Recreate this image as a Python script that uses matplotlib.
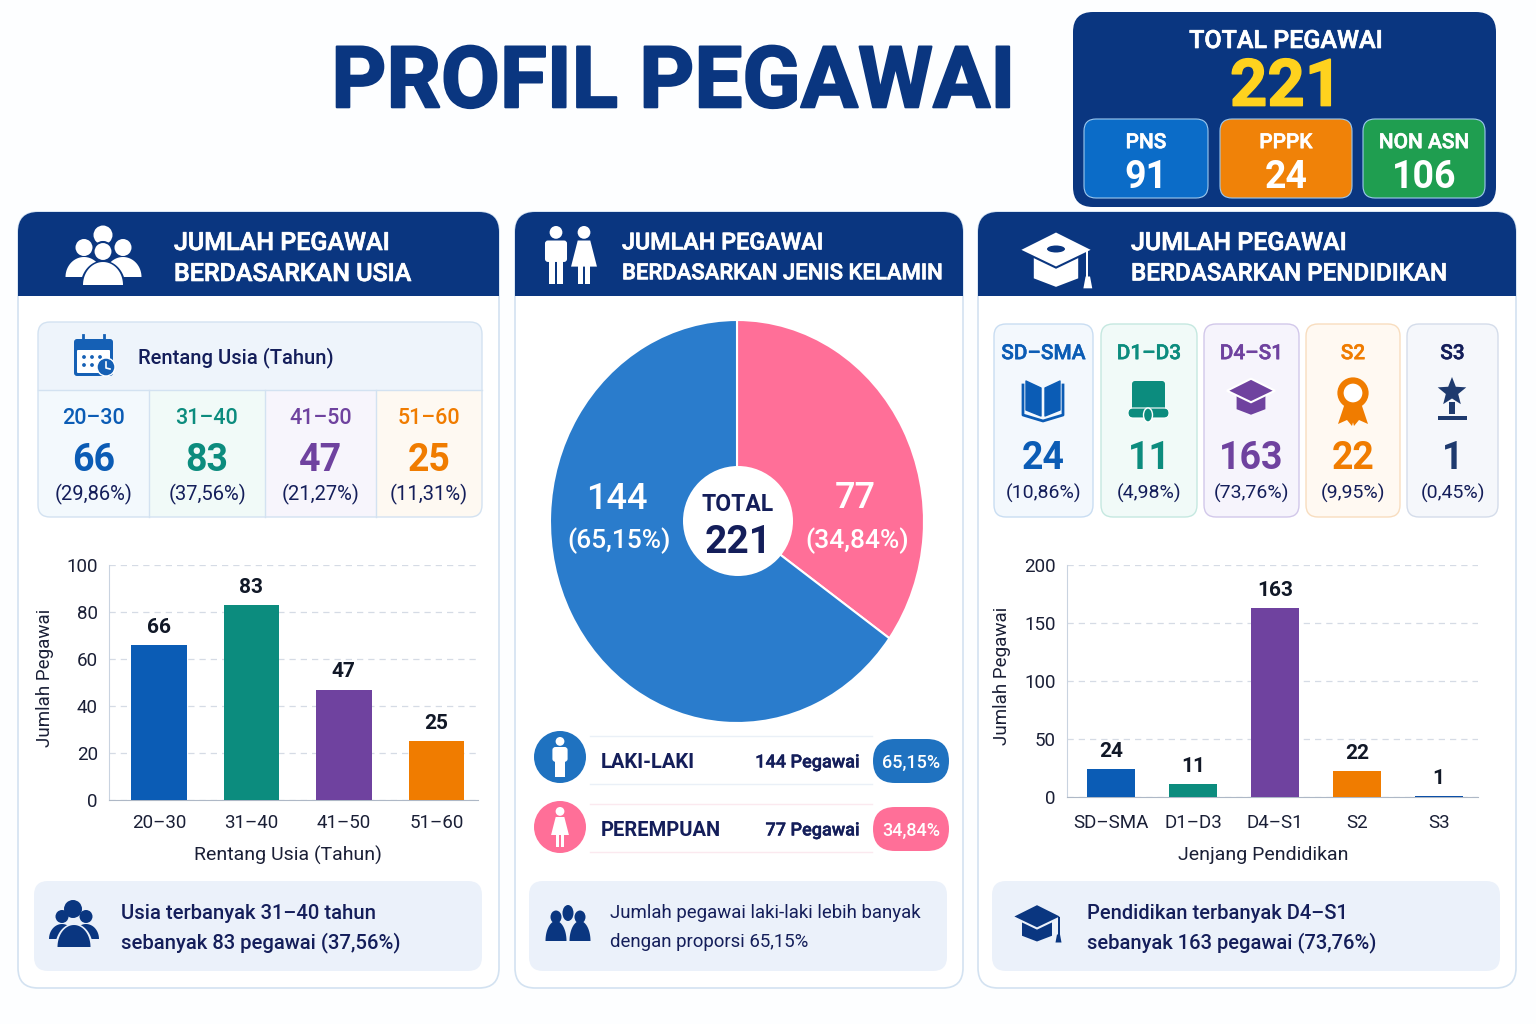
#!/usr/bin/env python3

import numpy as np
import matplotlib

matplotlib.use("Agg")
import matplotlib.pyplot as plt
from matplotlib.patches import Circle, Ellipse, FancyBboxPatch, Polygon, Rectangle
import matplotlib.patheffects as pe

plt.rcParams["font.family"] = ["Roboto", "DejaVu Sans"]

# Data
total_pegawai = 221
status_labels = ["PNS", "PPPK", "NON ASN"]
status_values = [91, 24, 106]

age_groups = ["20–30", "31–40", "41–50", "51–60"]
age_values = [66, 83, 47, 25]
age_pct = ["29,86%", "37,56%", "21,27%", "11,31%"]

gender_labels = ["PEREMPUAN", "LAKI-LAKI"]
gender_values = [77, 144]
gender_pct = ["34,84%", "65,15%"]

edu_groups = ["SD–SMA", "D1–D3", "D4–S1", "S2", "S3"]
edu_values = [24, 11, 163, 22, 1]
edu_pct = ["10,86%", "4,98%", "73,76%", "9,95%", "0,45%"]

# Colours
NAVY = "#0A3680"
INK = "#141E5A"
BLUE = "#0B5CB5"
TEAL = "#0C8C7E"
PURPLE = "#6F429F"
ORANGE = "#F07C00"
SLATE = "#1E3A6E"
PIE_BLUE = "#2A7CCC"
PIE_PINK = "#FF6F98"
BORDER = "#D3E2F1"
INSIGHT = "#EBF1FA"

fig = plt.figure(figsize=(15.36, 10.24), dpi=100, facecolor="#FDFEFF")


def pixel_axes(z):
    ax = fig.add_axes([0, 0, 1, 1], zorder=z)
    ax.set_xlim(0, 1536)
    ax.set_ylim(1024, 0)
    ax.axis("off")
    return ax


bg = pixel_axes(0)
fg = pixel_axes(5)


def rbox(x0, y0, x1, y1, r, fc, ec="none", lw=1.0, ax=bg, z=2):
    ax.add_patch(
        FancyBboxPatch(
            (x0 + r, y0 + r),
            x1 - x0 - 2 * r,
            y1 - y0 - 2 * r,
            boxstyle=f"round,pad={r},rounding_size={r}",
            fc=fc,
            ec=ec,
            lw=lw,
            zorder=z,
        )
    )


def txt(x, y, s, size, color=INK, weight="normal", ha="center", ax=bg, stroke=0):
    # va center sits a little high for these fonts, so push it down with the size
    t = ax.text(x, y + size * 0.11, s, fontsize=size, color=color, fontweight=weight, ha=ha, va="center", zorder=10)
    if stroke:
        t.set_path_effects([pe.withStroke(linewidth=stroke, foreground=color)])
    return t


def dome(cx, base, w, h, color, z=6):
    t = np.linspace(0, np.pi, 40)
    pts = np.c_[cx + w / 2 * np.cos(t), base - h * np.sin(t)]
    bg.add_patch(Polygon(pts, fc=color, ec="none", zorder=z))


def bust(cx, base, w, h, r, color, edge=None, z=6):
    # head and shoulders, optional outline so overlapping figures stay apart
    if edge:
        dome(cx, base + 1.5, w + 5, h + 3, edge, z)
    dome(cx, base, w, h, color, z)
    bg.add_patch(Circle((cx, base - h - r - 1), r, fc=color, ec=edge if edge else "none", lw=1.5, zorder=z))


def man(cx, top, h, color, z=6):
    w = h * 0.38
    bg.add_patch(Circle((cx, top + h * 0.11), h * 0.11, fc=color, ec="none", zorder=z))
    rbox(cx - w / 2, top + h * 0.25, cx + w / 2, top + h * 0.62, 3, color, z=z)
    bg.add_patch(Rectangle((cx - w * 0.32, top + h * 0.55), w * 0.29, h * 0.45, fc=color, ec="none", zorder=z))
    bg.add_patch(Rectangle((cx + w * 0.03, top + h * 0.55), w * 0.29, h * 0.45, fc=color, ec="none", zorder=z))


def woman(cx, top, h, color, z=6):
    w = h * 0.36
    bg.add_patch(Circle((cx, top + h * 0.11), h * 0.11, fc=color, ec="none", zorder=z))
    bg.add_patch(
        Polygon(
            [
                (cx - w * 0.3, top + h * 0.25),
                (cx + w * 0.3, top + h * 0.25),
                (cx + w * 0.62, top + h * 0.7),
                (cx - w * 0.62, top + h * 0.7),
            ],
            fc=color,
            ec="none",
            zorder=z,
        )
    )
    bg.add_patch(Rectangle((cx - w * 0.3, top + h * 0.65), w * 0.24, h * 0.35, fc=color, ec="none", zorder=z))
    bg.add_patch(Rectangle((cx + w * 0.06, top + h * 0.65), w * 0.24, h * 0.35, fc=color, ec="none", zorder=z))


def mortarboard(cx, cy, s, color, cut="white", tassel=False):
    # s = half width of the board
    bg.add_patch(
        Polygon(
            [(cx - s * 0.6, cy - s * 0.02), (cx + s * 0.6, cy - s * 0.02), (cx + s * 0.6, cy + s * 0.55),
             (cx, cy + s * 0.78), (cx - s * 0.6, cy + s * 0.55)],
            fc=color, ec="none", zorder=6,
        )
    )
    bg.add_patch(
        Polygon(
            [(cx - s, cy - s * 0.22), (cx, cy - s * 0.72), (cx + s, cy - s * 0.22), (cx, cy + s * 0.26)],
            fc=color, ec=cut, lw=1.5, zorder=7,
        )
    )
    if tassel:
        bg.add_patch(Rectangle((cx + s * 0.82, cy - s * 0.2), 2, s * 0.72, fc=color, ec="none", zorder=7))
        bg.add_patch(Polygon([(cx + s * 0.8, cy + s * 0.5), (cx + s * 0.92, cy + s * 0.5),
                              (cx + s * 0.98, cy + s * 0.82), (cx + s * 0.74, cy + s * 0.82)],
                             fc=color, ec="none", zorder=7))


# Title
txt(673, 77, "PROFIL PEGAWAI", 61.5, NAVY, "bold", stroke=1.5)

# Total box
rbox(1073, 12, 1496, 207, 20, NAVY)
txt(1286, 39, "TOTAL PEGAWAI", 18, "white", "medium", stroke=0.5)
txt(1286, 83, str(total_pegawai), 47, "#FFD21E", "bold", stroke=1)
status_boxes = [(1084, 1208, "#0B6CC8"), (1220, 1352, "#F08208"), (1363, 1485, "#1F9E50")]
for (x0, x1, col), lab, val in zip(status_boxes, status_labels, status_values):
    rbox(x0, 119, x1, 198, 12, col, ec="#9CC8EE", lw=0.8, z=3)
    txt((x0 + x1) / 2, 141, lab, 15, "white", "medium", stroke=0.4)
    txt((x0 + x1) / 2, 175, str(val), 27, "white", "bold")

# Cards with their headers, line sizes differ because the text is squeezed to fit
cards = [
    (18, 499, 174, ["JUMLAH PEGAWAI", "BERDASARKAN USIA"], [18, 18]),
    (515, 963, 622, ["JUMLAH PEGAWAI", "BERDASARKAN JENIS KELAMIN"], [16.8, 15.9]),
    (978, 1516, 1131, ["JUMLAH PEGAWAI", "BERDASARKAN PENDIDIKAN"], [18, 17.4]),
]
for x0, x1, tx, lines, sizes in cards:
    rbox(x0, 212, x1, 988, 20, "white", ec=BORDER, lw=1.2, z=1)
    rbox(x0, 212, x1, 280, 20, NAVY, z=2)
    bg.add_patch(Rectangle((x0, 250), x1 - x0, 46, fc=NAVY, ec="none", zorder=2))
    txt(tx, 241, lines[0], sizes[0], "white", "medium", ha="left", stroke=0.5)
    txt(tx, 272, lines[1], sizes[1], "white", "medium", ha="left", stroke=0.5)

# Header icons
bg.add_patch(Circle((103, 235), 9.5, fc="white", ec="none", zorder=6))
bust(84, 277, 37, 20, 8.5, "white")
bust(123, 277, 37, 20, 8.5, "white")
bust(103, 285, 40, 23, 9.5, "white", edge=NAVY, z=7)
man(556, 226, 58, "white")
woman(584, 226, 58, "white")
mortarboard(1056, 258, 37, "white", cut=NAVY, tassel=True)
bg.add_patch(Ellipse((1056, 249), 18, 7, fc=NAVY, ec="none", zorder=8))

# Age panel
rbox(38, 322, 482, 517, 12, "#F6FAFE")
rbox(38, 322, 482, 380, 12, "#EEF4FB", z=3)
bg.add_patch(Rectangle((38, 365), 444, 25, fc="#EEF4FB", ec="none", zorder=3))
txt(138, 356, "Rentang Usia (Tahun)", 14.5, INK, "medium", ha="left")

# calendar icon
rbox(74, 339, 113, 376, 3, "#1560B5", z=5)
rbox(77, 350, 110, 373, 1, "white", z=6)
for px in [83, 104]:
    bg.plot([px, px], [335, 342], color="#1560B5", lw=2, zorder=6)
for px, py in [(84, 357), (92, 357), (100, 357), (84, 365), (92, 365)]:
    bg.add_patch(Circle((px, py), 1.9, fc="#1560B5", ec="none", zorder=7))
bg.add_patch(Circle((106, 367), 9, fc="#1560B5", ec="white", lw=1, zorder=8))
bg.plot([106, 106, 110], [362, 368, 369], color="white", lw=1.2, zorder=9)

age_cells = [(38, 149, "#F3F9FD"), (149, 265, "#F1FAF8"), (265, 376, "#F7F5FC"), (376, 482, "#FEF9F2")]
age_cols = [BLUE, TEAL, PURPLE, ORANGE]
for i, (x0, x1, tint) in enumerate(age_cells):
    # only the outer bottom corners of the row stay rounded
    rbox(x0, 391, x1, 517, 12, tint, z=3)
    bg.add_patch(Rectangle((x0, 391), x1 - x0, 20, fc=tint, ec="none", zorder=3))
    if i > 0:
        bg.add_patch(Rectangle((x0, 391), 20, 126, fc=tint, ec="none", zorder=3))
    if i < len(age_cells) - 1:
        bg.add_patch(Rectangle((x1 - 20, 391), 20, 126, fc=tint, ec="none", zorder=3))
        bg.plot([x1, x1], [390, 517], color=BORDER, lw=1, zorder=4)
    cx = (x0 + x1) / 2
    txt(cx, 417, age_groups[i], 15.5, age_cols[i], "medium")
    txt(cx, 458, str(age_values[i]), 27, age_cols[i], "bold")
    txt(cx, 493, f"({age_pct[i]})", 14.5, INK)
bg.plot([38, 482], [390, 390], color=BORDER, lw=1, zorder=4)
rbox(38, 322, 482, 517, 12, "none", ec=BORDER, lw=1.0, z=5)

# Education panel cells
edu_cells = [
    (994, 1093, "#F3F8FD", "#C9DDF2"),
    (1101, 1197, "#F1FAF8", "#C5E8E0"),
    (1204, 1299, "#F6F4FC", "#D2C8EA"),
    (1306, 1400, "#FFF9F2", "#F8DDBF"),
    (1407, 1498, "#F5F7FB", "#D4DCEA"),
]
edu_cols = [BLUE, TEAL, PURPLE, ORANGE, SLATE]
edu_head = [BLUE, TEAL, PURPLE, ORANGE, INK]
for i, (x0, x1, tint, edge) in enumerate(edu_cells):
    rbox(x0, 324, x1, 517, 12, tint, ec=edge, lw=1.0, z=3)
    cx = (x0 + x1) / 2
    txt(cx, 352, edu_groups[i], 15, edu_head[i], "medium", stroke=0.3)
    txt(cx, 456, str(edu_values[i]), 27, edu_cols[i], "bold")
    txt(cx, 492, f"({edu_pct[i]})", 14, INK)

# book
for pts in [[(1041, 388), (1026, 381), (1026, 410), (1041, 416)], [(1045, 388), (1060, 381), (1060, 410), (1045, 416)]]:
    bg.add_patch(Polygon(pts, fc=BLUE, ec=BLUE, lw=1, joinstyle="round", zorder=6))
bg.plot([1023, 1023, 1043, 1063, 1063], [385, 415, 421, 415, 385], color=BLUE, lw=2, zorder=6)
# scroll
rbox(1132, 381, 1165, 412, 3, TEAL, z=6)
rbox(1128, 408, 1169, 418, 5, TEAL, ec="white", lw=0.8, z=7)
bg.add_patch(Ellipse((1148, 415), 9, 14, fc=TEAL, ec="white", lw=1, zorder=8))
# cap
mortarboard(1251, 396, 24, PURPLE)
# rosette
bg.add_patch(Polygon([(1346, 400), (1338, 424), (1347, 420), (1352, 426), (1358, 404)], fc=ORANGE, ec="none", zorder=6))
bg.add_patch(Polygon([(1360, 400), (1368, 424), (1359, 420), (1354, 426), (1348, 404)], fc=ORANGE, ec="none", zorder=6))
bg.add_patch(Circle((1353, 393), 12.5, fc="white", ec=ORANGE, lw=4.5, zorder=7))
# star
ang = np.deg2rad(np.arange(0, 360, 36) - 90)
rad = np.where(np.arange(10) % 2 == 0, 15, 6.5)
bg.add_patch(Polygon(np.c_[1452 + rad * np.cos(ang), 392 + rad * np.sin(ang)], fc=SLATE, ec="none", zorder=6))
bg.add_patch(Rectangle((1449, 402), 6, 12, fc=SLATE, ec="none", zorder=6))
bg.add_patch(Rectangle((1438, 416), 29, 4, fc=SLATE, ec="none", zorder=6))


def bar_axes(x0, x1, y0, y1):
    ax = fig.add_axes([x0 / 1536, 1 - y0 / 1024, (x1 - x0) / 1536, (y0 - y1) / 1024], zorder=2)
    ax.patch.set_alpha(0)
    for s in ["top", "right"]:
        ax.spines[s].set_visible(False)
    ax.spines["left"].set_color("#C9D3E0")
    ax.spines["bottom"].set_color("#AEB8C6")
    ax.tick_params(length=0, labelsize=13.5, labelcolor="#1A1F36")
    ax.tick_params(axis="y", pad=8)
    ax.grid(axis="y", color="#D5DBE5", ls=(0, (5, 4)), lw=0.9)
    ax.set_axisbelow(True)
    return ax


# Age bars
ax1 = bar_axes(109, 478, 800, 565)
x1 = np.arange(len(age_values))
bars = ax1.bar(x1, age_values, width=0.6, color=age_cols, zorder=3)
ax1.bar_label(bars, padding=6, fontsize=15, fontweight="bold", color="#111827")
ax1.set_xlim(-0.54, 3.45)
ax1.set_ylim(0, 100)
ax1.set_yticks([0, 20, 40, 60, 80, 100])
ax1.set_xticks(x1)
ax1.set_xticklabels(age_groups)
ax1.tick_params(axis="x", pad=10)
ax1.set_ylabel("Jumlah Pegawai", fontsize=13.5, color="#1A1F36")
ax1.yaxis.set_label_coords(-0.149, 0.52)
ax1.set_xlabel("Rentang Usia (Tahun)", fontsize=14, color="#1A1F36")
ax1.xaxis.set_label_coords(0.484, -0.195)

# Education bars
ax3 = bar_axes(1067, 1478, 797, 565)
x3 = np.arange(len(edu_values))
bars = ax3.bar(x3, edu_values, width=0.585, color=[BLUE, TEAL, PURPLE, ORANGE, "#0B4FA8"], zorder=3)
ax3.bar_label(bars, padding=6, fontsize=15, fontweight="bold", color="#111827")
ax3.set_xlim(-0.54, 4.48)
ax3.set_ylim(0, 200)
ax3.set_yticks([0, 50, 100, 150, 200])
ax3.set_xticks(x3)
ax3.set_xticklabels(edu_groups)
ax3.tick_params(axis="x", pad=12.5)
ax3.set_ylabel("Jumlah Pegawai", fontsize=13.5, color="#1A1F36")
ax3.yaxis.set_label_coords(-0.136, 0.52)
ax3.set_xlabel("Jenjang Pendidikan", fontsize=14, color="#1A1F36")
ax3.xaxis.set_label_coords(0.477, -0.21)

# Gender pie, slices follow the printed counts
ax2 = fig.add_axes([550 / 1536, 1 - 723 / 1024, 374 / 1536, 403 / 1024], zorder=2)
ax2.pie(
    gender_values,
    colors=[PIE_PINK, PIE_BLUE],
    startangle=90,
    counterclock=False,
    radius=1,
    wedgeprops={"edgecolor": "white", "linewidth": 1.5},
)
ax2.set_aspect("auto")
ax2.set_xlim(-1, 1)
ax2.set_ylim(-1, 1)

fg.add_patch(Circle((738, 521), 55, fc="white", ec="none", zorder=6))
txt(738, 503, "TOTAL", 16.5, INK, "bold", ax=fg)
txt(738, 539, str(total_pegawai), 28, INK, "bold", ax=fg)
txt(617, 497, str(gender_values[1]), 26, "white", "medium", ax=fg)
txt(619, 539, f"({gender_pct[1]})", 19, "white", "medium", ax=fg)
txt(855, 496, str(gender_values[0]), 26, "white", "medium", ax=fg)
txt(857, 539, f"({gender_pct[0]})", 19, "white", "medium", ax=fg)

# Gender legend rows
rows = [(757, 761, 1, "#1F72C0", "#EAF0F7"), (827, 829, 0, PIE_PINK, "#FBE9EF")]
for cy, ty, k, col, line in rows:
    bg.add_patch(Circle((560, cy), 26, fc=col, ec="none", zorder=4))
    top_line, bot_line = ty - 25, ty + 23
    bg.plot([590, 872], [top_line, top_line], color=line, lw=1, zorder=3)
    bg.plot([590, 872], [bot_line, bot_line], color=line, lw=1, zorder=3)
    txt(601, ty, gender_labels[k], 14.5, INK, "bold", ha="left")
    txt(859, ty, f"{gender_values[k]} Pegawai", 13, INK, "medium", ha="right", stroke=0.3)
    rbox(873, ty - 22, 949, ty + 22, 22, col, z=4)
    txt(911, ty, gender_pct[k], 13, "white", "medium")
man(560, 737, 40, "white")
woman(560, 807, 40, "white")

# Insight boxes
rbox(34, 881, 482, 971, 14, INSIGHT)
rbox(529, 881, 947, 971, 14, INSIGHT)
rbox(992, 881, 1500, 971, 14, INSIGHT)
txt(121, 912, "Usia terbanyak 31–40 tahun", 14.6, INK, "medium", ha="left")
txt(121, 941, "sebanyak 83 pegawai (37,56%)", 14.6, INK, "medium", ha="left")
txt(610, 912, "Jumlah pegawai laki-laki lebih banyak", 13.4, INK, ha="left")
txt(610, 941, "dengan proporsi 65,15%", 13.4, INK, ha="left")
txt(1087, 912, "Pendidikan terbanyak D4–S1", 14.5, INK, "medium", ha="left")
txt(1087, 941, "sebanyak 163 pegawai (73,76%)", 14.5, INK, "medium", ha="left")

bg.add_patch(Circle((73, 909), 9, fc=NAVY, ec="none", zorder=6))
bust(62, 939, 26, 15, 6.5, NAVY)
bust(86, 939, 26, 15, 6.5, NAVY)
bust(74, 947, 33, 22, 0.1, NAVY, edge=INSIGHT, z=7)
for cx, head in [(556, 914), (580, 914)]:
    dome(cx, 941, 21, 20, NAVY)
    bg.add_patch(Ellipse((cx, head + 3), 11, 13, fc=NAVY, ec="none", zorder=6))
bg.add_patch(Ellipse((568, 913), 11, 16, fc=NAVY, ec="none", zorder=6))
mortarboard(1037, 922, 25, NAVY, cut=INSIGHT, tassel=True)

plt.savefig("out.png", dpi=100)
